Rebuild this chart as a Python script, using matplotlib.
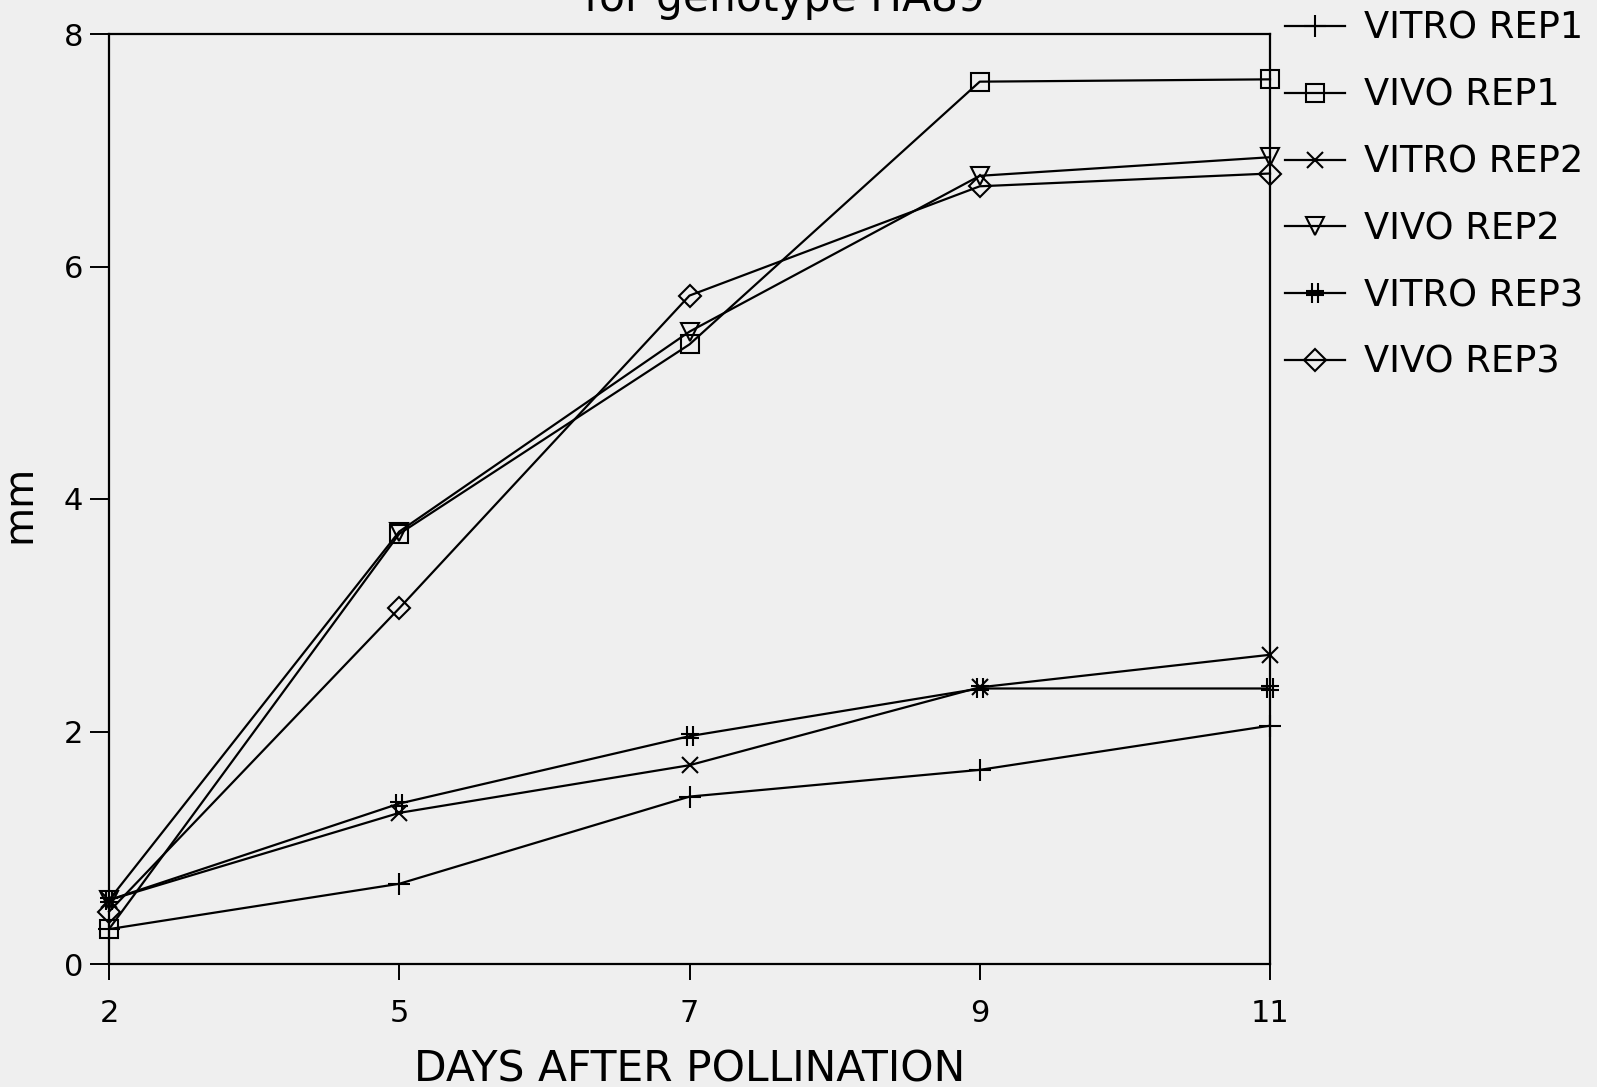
import matplotlib
matplotlib.use("Agg")
import matplotlib.pyplot as plt
from matplotlib.path import Path

# Sampling days (plotted as evenly spaced categories)
days = ["2", "5", "7", "9", "11"]

# Length (mm) per replicate
vitro_rep1 = [0.30, 0.69, 1.44, 1.67, 2.05]
vivo_rep1 = [0.30, 3.70, 5.33, 7.59, 7.61]
vitro_rep2 = [0.55, 1.30, 1.71, 2.38, 2.66]
vivo_rep2 = [0.55, 3.72, 5.44, 6.78, 6.94]
vitro_rep3 = [0.55, 1.38, 1.96, 2.37, 2.37]
vivo_rep3 = [0.45, 3.06, 5.75, 6.69, 6.80]

series_labels = ["VITRO REP1", "VIVO REP1", "VITRO REP2",
                 "VIVO REP2", "VITRO REP3", "VIVO REP3"]
y_ticks = [0, 2, 4, 6, 8]

# "#"-like marker: two vertical strokes crossed by two short horizontals
hash_marker = Path(
    [(-0.3, -1), (-0.3, 1), (0.3, -1), (0.3, 1),
     (-0.9, 0.25), (0.9, 0.25), (-0.9, -0.25), (0.9, -0.25)],
    [Path.MOVETO, Path.LINETO, Path.MOVETO, Path.LINETO,
     Path.MOVETO, Path.LINETO, Path.MOVETO, Path.LINETO])

plt.rcParams["font.family"] = ["DejaVu Sans"]
paper = "#efefef"

fig = plt.figure(figsize=(15.97, 10.87), dpi=100, facecolor=paper)
ax = fig.add_axes([109 / 1597, 1 - 964 / 1087, (1270 - 109) / 1597, (964 - 34) / 1087])
ax.set_facecolor(paper)

x = list(range(len(days)))
styles = [
    (vitro_rep1, dict(marker="+", ms=16)),
    (vivo_rep1, dict(marker="s", ms=13)),
    (vitro_rep2, dict(marker="x", ms=12)),
    (vivo_rep2, dict(marker="v", ms=13)),
    (vitro_rep3, dict(marker=hash_marker, ms=14)),
    (vivo_rep3, dict(marker="D", ms=11)),
]
for (vals, st), lab in zip(styles, series_labels):
    ax.plot(x, vals, color="black", lw=1.6, mfc="none", mec="black",
            mew=1.5, label=lab, clip_on=False, **st)

ax.set_xlim(0, len(days) - 1)
ax.set_ylim(0, 8)
ax.set_xticks(x)
ax.set_xticklabels(days)
ax.set_yticks(y_ticks)
ax.tick_params(direction="out", width=1.4, labelsize=22, colors="black")
ax.tick_params(axis="x", length=11.5, pad=14)
ax.tick_params(axis="y", length=13.5, pad=5)
for s in ax.spines.values():
    s.set_linewidth(1.6)
    s.set_color("black")

ax.set_xlabel("DAYS AFTER POLLINATION", fontsize=30.5)
ax.set_ylabel("mm", fontsize=29)
ax.yaxis.set_label_coords(-0.060, 0.495)
ax.xaxis.set_label_coords(0.5, -0.091)

fig.text(784 / 1597, 1 - 11 / 1087, "for genotype HA89", fontsize=30.5,
         ha="center", va="baseline")

fig.legend(loc="upper left", bbox_to_anchor=(1285 / 1597, 0.991),
           frameon=False, fontsize=26.5, handlelength=1.62,
           handletextpad=0.54, labelspacing=0.81, borderpad=0,
           borderaxespad=0)

fig.savefig("out.png", dpi=100, facecolor=paper)
